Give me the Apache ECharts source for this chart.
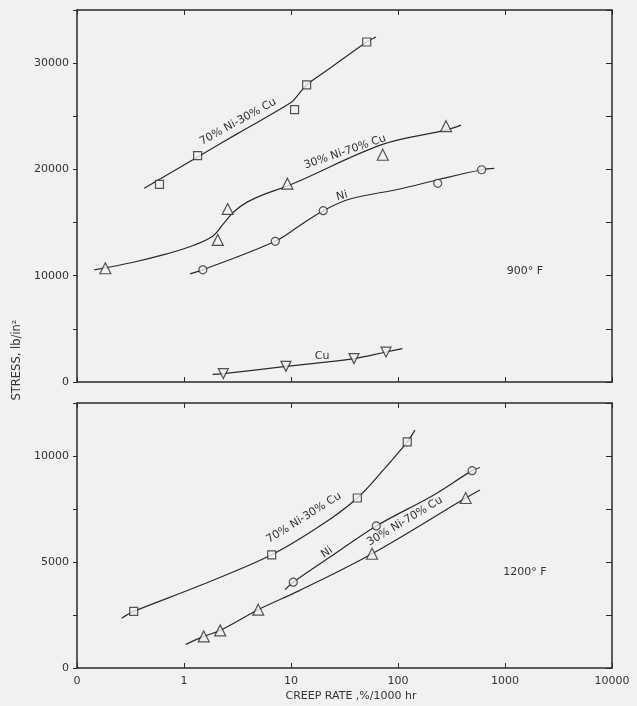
<!DOCTYPE html>
<html><head><meta charset="utf-8">
<script src="https://cdn.jsdelivr.net/npm/echarts@6/dist/echarts.min.js"></script>
<style>html,body{margin:0;padding:0;background:#f1f1f1}#c{width:637px;height:706px}</style>
</head><body><div id="c"></div>
<script>
// ---------- DATA ----------
const xTickValues = [0.1, 1, 10, 100, 1000, 10000];
const xTickLabels = ['0', '1', '10', '100', '1000', '10000'];
const yTicksTop = [0, 10000, 20000, 30000];
const yTicksBottom = [0, 5000, 10000];

// 900 F panel: measured points
const ni70_900_pts = [[0.59, 18600], [1.34, 21290], [10.8, 25630], [14.0, 27950], [51, 31990]];
const ni30_900_pts = [[0.184, 10700], [2.07, 13370], [2.56, 16280], [9.25, 18660], [72, 21380], [281, 24070]];
const ni_900_pts = [[1.50, 10550], [7.13, 13240], [20.0, 16120], [235, 18690], [605, 19970]];
const cu_900_pts = [[2.33, 790], [8.97, 1470], [38.8, 2200], [77.3, 2820]];
// 900 F panel: fitted curves
const ni70_900_curve = [[0.425, 18220], [1.34, 21170], [3.16, 23370], [10, 26290], [11.6, 26990], [14.0, 27950], [23.1, 29520], [51, 31990], [62.2, 32460]];
const ni30_900_curve = [[0.145, 10550], [0.336, 11270], [0.689, 12050], [1.22, 12840], [1.88, 13770], [2.33, 14870], [2.89, 15970], [3.85, 16900], [5.93, 17750], [9.25, 18440], [12.1, 18940], [72.9, 22380], [281, 23700], [388, 24170]];
const ni_900_curve = [[1.14, 10180], [1.50, 10550], [7.13, 13240], [12.1, 14720], [20.0, 16120], [35.6, 17220], [104, 18160], [235, 19030], [605, 19970], [794, 20090]];
const cu_900_curve = [[1.85, 720], [2.33, 790], [8.97, 1470], [38.8, 2200], [77.3, 2820], [110, 3140]];

// 1200 F panel: measured points
const ni70_1200_pts = [[0.339, 2670], [6.6, 5340], [41.7, 8020], [122, 10670]];
const ni_1200_pts = [[10.5, 4050], [62.7, 6700], [492, 9310]];
const ni30_1200_pts = [[1.53, 1490], [2.18, 1775], [4.94, 2750], [57.2, 5390], [429, 8020]];
// 1200 F panel: fitted curves
const ni70_1200_curve = [[0.262, 2350], [0.339, 2670], [1.41, 3890], [6.6, 5340], [20, 6800], [41.7, 8020], [72, 9310], [122, 10670], [144, 11220]];
const ni_1200_curve = [[8.8, 3700], [10.5, 4050], [24.9, 5340], [62.7, 6700], [214, 8150], [492, 9310], [583, 9460]];
const ni30_1200_curve = [[1.04, 1115], [1.53, 1490], [2.18, 1775], [4.94, 2750], [12.1, 3660], [57.2, 5390], [429, 8020], [583, 8400]];

// annotations: [text, x, y]
const topNotes = [['70% Ni-30% Cu', 3.2, 24480], ['30% Ni-70% Cu', 32, 21650], ['Ni', 30, 17500], ['Cu', 19.5, 2410], ['900° F', 1538, 10390]];
const bottomNotes = [['70% Ni-30% Cu', 13.2, 7080], ['Ni', 21.7, 5450], ['30% Ni-70% Cu', 116, 6920], ['1200° F', 1538, 4500]];

// ---------- STYLE ----------
const INK = '#2a2a2a';
const BG = '#f1f1f1';
const FONT = 'DejaVu Sans';
const topAngles = [29, 19, 15, 0, 0];
const bottomAngles = [32, 35, 31, 0];

const chart = echarts.init(document.getElementById('c'), null, {renderer: 'canvas'});

function xAxis(g, pos, labels) {
  return {
    type: 'log', logBase: 10, gridIndex: g, position: pos, min: 0.1, max: 10000,
    axisLine: {show: true, onZero: false, lineStyle: {color: INK, width: 1.5}},
    axisTick: {show: true, inside: true, length: 5, lineStyle: {color: INK, width: 1}},
    axisLabel: {show: labels, margin: 8, fontFamily: FONT, fontSize: 11, color: '#333',
      formatter: v => { const i = xTickValues.findIndex(t => Math.abs(Math.log10(t) - Math.log10(v)) < 1e-6); return i >= 0 ? xTickLabels[i] : ''; }},
    splitLine: {show: false}, minorTick: {show: false}
  };
}
function yAxis(g, pos, max, interval, labelTicks) {
  const left = pos === 'left';
  return {
    type: 'value', gridIndex: g, position: pos, min: 0, max: max, interval: interval,
    axisLine: {show: true, onZero: false, lineStyle: {color: INK, width: 1.5}},
    axisTick: {show: true, inside: !left, length: left ? 4 : 6, lineStyle: {color: INK, width: 1}},
    axisLabel: {show: left, margin: 8, fontFamily: FONT, fontSize: 11, color: '#333',
      formatter: v => labelTicks.indexOf(v) >= 0 ? String(v) : ''},
    splitLine: {show: false}
  };
}
function curve(data, xi, yi) {
  return {type: 'line', data: data, xAxisIndex: xi, yAxisIndex: yi, smooth: 0.35, showSymbol: false,
    lineStyle: {color: INK, width: 1.2}, silent: true, z: 2};
}
function marks(data, xi, yi, symbol, size, rot) {
  return {type: 'scatter', data: data, xAxisIndex: xi, yAxisIndex: yi, symbol: symbol, symbolSize: size,
    symbolRotate: rot || 0, itemStyle: {color: BG, borderColor: INK, borderWidth: 1.2}, z: 3};
}

chart.setOption({
  backgroundColor: BG,
  animation: false,
  grid: [
    {left: 77, right: 25, top: 10, height: 372},
    {left: 77, right: 25, top: 403, height: 265}
  ],
  xAxis: [xAxis(0, 'bottom', false), xAxis(0, 'top', false), xAxis(1, 'bottom', true), xAxis(1, 'top', false)],
  yAxis: [yAxis(0, 'left', 35000, 5000, yTicksTop), yAxis(0, 'right', 35000, 5000, []),
          yAxis(1, 'left', 12500, 2500, yTicksBottom), yAxis(1, 'right', 12500, 2500, [])],
  series: [
    curve(ni70_900_curve, 0, 0), curve(ni30_900_curve, 0, 0), curve(ni_900_curve, 0, 0), curve(cu_900_curve, 0, 0),
    marks(ni70_900_pts, 0, 0, 'rect', 8), marks(ni30_900_pts, 0, 0, 'triangle', 11),
    marks(ni_900_pts, 0, 0, 'circle', 8), marks(cu_900_pts, 0, 0, 'triangle', 10, 180),
    curve(ni70_1200_curve, 2, 2), curve(ni_1200_curve, 2, 2), curve(ni30_1200_curve, 2, 2),
    marks(ni70_1200_pts, 2, 2, 'rect', 8), marks(ni_1200_pts, 2, 2, 'circle', 8), marks(ni30_1200_pts, 2, 2, 'triangle', 11)
  ]
});

const gfx = [];
function addNotes(notes, angles, xi, yi) {
  notes.forEach((n, i) => {
    const p = chart.convertToPixel({xAxisIndex: xi, yAxisIndex: yi}, [n[1], n[2]]);
    gfx.push({type: 'text', x: p[0], y: p[1], rotation: angles[i] * Math.PI / 180,
      style: {text: n[0], fill: '#333', font: '11px "' + FONT + '"', textAlign: 'center', textVerticalAlign: 'middle'}, z: 10});
  });
}
addNotes(topNotes, topAngles, 0, 0);
addNotes(bottomNotes, bottomAngles, 2, 2);
gfx.push({type: 'text', x: 17, y: 360, rotation: Math.PI / 2,
  style: {text: 'STRESS, lb/in²', fill: '#333', font: '11.5px "' + FONT + '"', textAlign: 'center', textVerticalAlign: 'middle'}});
gfx.push({type: 'text', x: 351, y: 696,
  style: {text: 'CREEP RATE ,%/1000 hr', fill: '#333', font: '11px "' + FONT + '"', textAlign: 'center', textVerticalAlign: 'middle'}});
chart.setOption({graphic: gfx});
</script></body></html>
